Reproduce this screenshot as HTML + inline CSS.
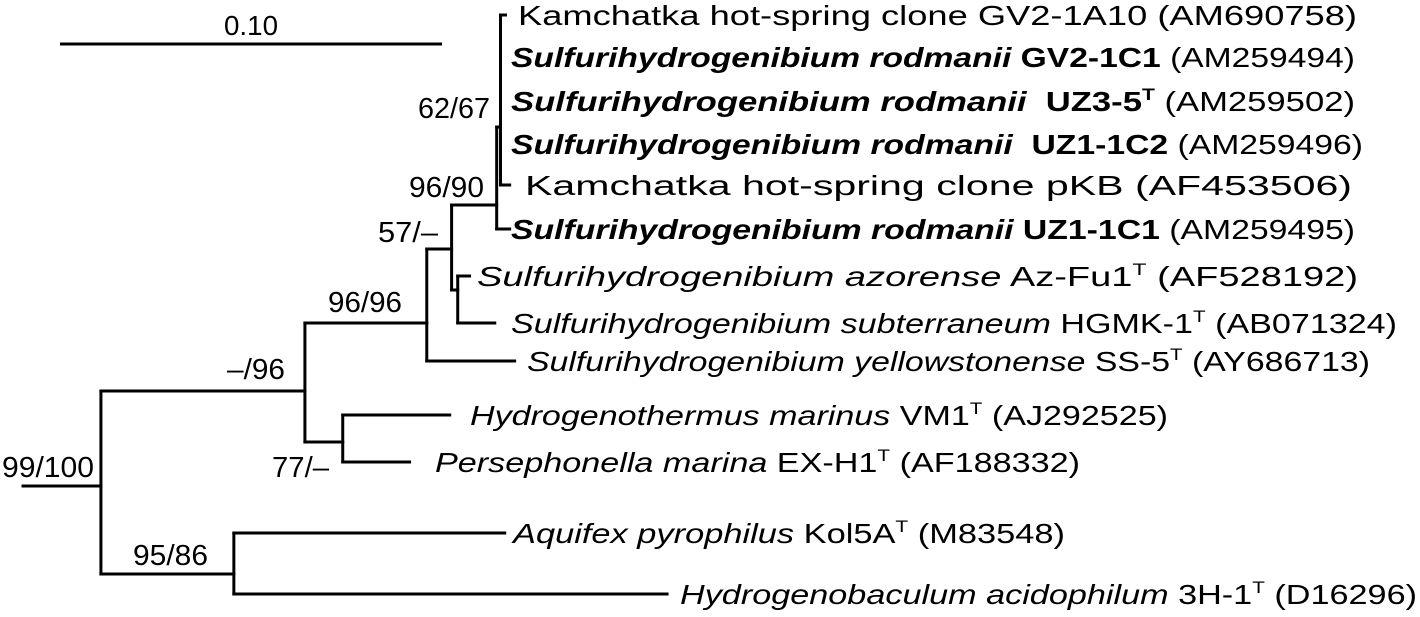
<!DOCTYPE html>
<html><head><meta charset="utf-8">
<style>
html,body{margin:0;padding:0;background:#fff;}
svg{display:block;font-family:"Liberation Sans",Arial,sans-serif;}
</style></head>
<body>
<svg id="tree" width="1420" height="617" viewBox="0 0 1420 617" xmlns="http://www.w3.org/2000/svg">
  <g id="branches" stroke="#000" stroke-width="3" fill="none" stroke-linecap="square"></g>
  <g id="labels" font-size="28" fill="#000"></g>
  <g id="support" font-size="29" fill="#000"></g>
  <g>
    <line x1="60" y1="44" x2="442" y2="44" stroke="#000" stroke-width="3"/>
    <text x="224" y="35" font-size="28" textLength="54" lengthAdjust="spacingAndGlyphs">0.10</text>
  </g>
</svg>
<script>
// Tree data: node ids, parents, branch lengths (substitutions/site)
const nodeIds = ["root","n1","n2","n3","n4","n5","n6","n7","n8",
  "GV2-1A10","GV2-1C1","UZ3-5","UZ1-1C2","pKB","UZ1-1C1","azorense","subterraneum","yellowstonense","hydrogenothermus","persephonella","aquifex","hydrogenobaculum"];
const parents = [null,"root","n1","n2","n3","n4","n3","n1","root",
  "n5","n5","n5","n5","n5","n4","n6","n6","n2","n7","n7","n8","n8"];
const branchLengths = [0.0204,0.0534,0.0319,0.0065,0.0118,0.0010,0.0016,0.0099,0.0348,
  0.0013,0,0,0,0.0024,0.0034,0.0031,0.0097,0.0230,0.0280,0.0175,0.0709,0.1134];
const supportValues = {"root":"99/100","n1":"–/96","n2":"96/96","n3":"57/–","n4":"96/90","n5":"62/67","n7":"77/–","n8":"95/86"};
const scaleBarValue = 0.10;

// Layout (pixels)
const xStart = 23, pxPerUnit = 382 / scaleBarValue;
const nodeY = {"root":486,"n1":391,"n2":323,"n3":249,"n4":205,"n5":127,"n6":290,"n7":442,"n8":574,
  "GV2-1A10":15,"GV2-1C1":57,"UZ3-5":101,"UZ1-1C2":144,"pKB":185,"UZ1-1C1":229,"azorense":276,"subterraneum":323,
  "yellowstonense":361,"hydrogenothermus":415,"persephonella":462,"aquifex":533,"hydrogenobaculum":594};
// [x-left, baseline, width]
const supportPos = {"root":[2,477,92],"n1":[227,379,58],"n2":[328,312,74],"n3":[378,242,60],
  "n4":[409,197,75],"n5":[418,118,72],"n7":[272,477,57],"n8":[133,565,75]};

const NS = "http://www.w3.org/2000/svg";
const X = {};
nodeIds.forEach((id,i)=>{
  const p = parents[i];
  const px = p===null ? xStart : X[p];
  X[id] = px + branchLengths[i]*pxPerUnit;
});
const bg = document.getElementById('branches');
nodeIds.forEach((id,i)=>{
  const p = parents[i];
  const px = p===null ? xStart : X[p];
  if (X[id]-px > 0.5) {
    const l = document.createElementNS(NS,'line');
    l.setAttribute('x1',px); l.setAttribute('x2',X[id]);
    l.setAttribute('y1',nodeY[id]); l.setAttribute('y2',nodeY[id]);
    
    
    bg.appendChild(l);
  }
  const kids = nodeIds.filter((k,j)=>parents[j]===id);
  if (kids.length) {
    const ys = kids.map(k=>nodeY[k]).concat([nodeY[id]]);
    const v = document.createElementNS(NS,'line');
    v.setAttribute('x1',X[id]); v.setAttribute('x2',X[id]);
    v.setAttribute('y1',Math.min(...ys)); v.setAttribute('y2',Math.max(...ys));
    
    
    bg.appendChild(v);
  }
});
const sg = document.getElementById('support');
Object.keys(supportValues).forEach(id=>{
  const t = document.createElementNS(NS,'text');
  const pos = supportPos[id];
  t.setAttribute('x',pos[0]); t.setAttribute('y',pos[1]);
  t.setAttribute('textLength',pos[2]);
  t.setAttribute('lengthAdjust','spacingAndGlyphs');
  t.textContent = supportValues[id];
  
  
  sg.appendChild(t);
});

// Leaf labels: segments [text, style] ; i=italic, b=bold, bi=bold italic, s=superscript, sb=bold superscript, n=normal
const leafLabels = {
 "GV2-1A10":[["Kamchatka hot-spring clone GV2-1A10 (AM690758)","n"]],
 "GV2-1C1":[["Sulfurihydrogenibium rodmanii","bi"],[" GV2-1C1","b"],[" (AM259494)","n"]],
 "UZ3-5":[["Sulfurihydrogenibium rodmanii","bi"],["  UZ3-5","b"],["T","sb"],[" (AM259502)","n"]],
 "UZ1-1C2":[["Sulfurihydrogenibium rodmanii","bi"],["  UZ1-1C2","b"],[" (AM259496)","n"]],
 "pKB":[["Kamchatka hot-spring clone pKB (AF453506)","n"]],
 "UZ1-1C1":[["Sulfurihydrogenibium rodmanii","bi"],[" UZ1-1C1","b"],[" (AM259495)","n"]],
 "azorense":[["Sulfurihydrogenibium azorense","i"],[" Az-Fu1","n"],["T","s"],[" (AF528192)","n"]],
 "subterraneum":[["Sulfurihydrogenibium subterraneum","i"],[" HGMK-1","n"],["T","s"],[" (AB071324)","n"]],
 "yellowstonense":[["Sulfurihydrogenibium yellowstonense","i"],[" SS-5","n"],["T","s"],[" (AY686713)","n"]],
 "hydrogenothermus":[["Hydrogenothermus marinus","i"],[" VM1","n"],["T","s"],[" (AJ292525)","n"]],
 "persephonella":[["Persephonella marina","i"],[" EX-H1","n"],["T","s"],[" (AF188332)","n"]],
 "aquifex":[["Aquifex pyrophilus","i"],[" Kol5A","n"],["T","s"],[" (M83548)","n"]],
 "hydrogenobaculum":[["Hydrogenobaculum acidophilum","i"],[" 3H-1","n"],["T","s"],[" (D16296)","n"]]
};
const labelSpan = {"GV2-1A10":[518,1357],"GV2-1C1":[511,1355],"UZ3-5":[511,1355],"UZ1-1C2":[511,1363],
 "pKB":[525,1352],"UZ1-1C1":[511,1355],"azorense":[477,1358],"subterraneum":[511,1397],"yellowstonense":[527,1370],
 "hydrogenothermus":[470,1168],"persephonella":[435,1080],"aquifex":[513,1065],"hydrogenobaculum":[680,1417]};
const lg = document.getElementById('labels');
Object.keys(leafLabels).forEach(id=>{
  const t = document.createElementNS(NS,'text');
  const sp = labelSpan[id];
  t.setAttribute('x',sp[0]); t.setAttribute('y',nodeY[id]+10);
  t.setAttribute('textLength',sp[1]-sp[0]);
  t.setAttribute('lengthAdjust','spacingAndGlyphs');
  t.setAttribute('xml:space','preserve');
  t.style.whiteSpace='pre';
  
  
  let pendingDy = 0;
  leafLabels[id].forEach(seg=>{
    const s = document.createElementNS(NS,'tspan');
    const st = seg[1];
    if (st.includes('i')) s.setAttribute('font-style','italic');
    if (st.includes('b')) s.setAttribute('font-weight','bold');
    if (st.startsWith('s')) {
      s.setAttribute('font-size','17'); s.setAttribute('dy','-11'); pendingDy = 11;
    } else if (pendingDy) {
      s.setAttribute('dy', pendingDy); pendingDy = 0;
    }
    s.textContent = seg[0];
    t.appendChild(s);
  });
  lg.appendChild(t);
});
</script>
</body></html>
